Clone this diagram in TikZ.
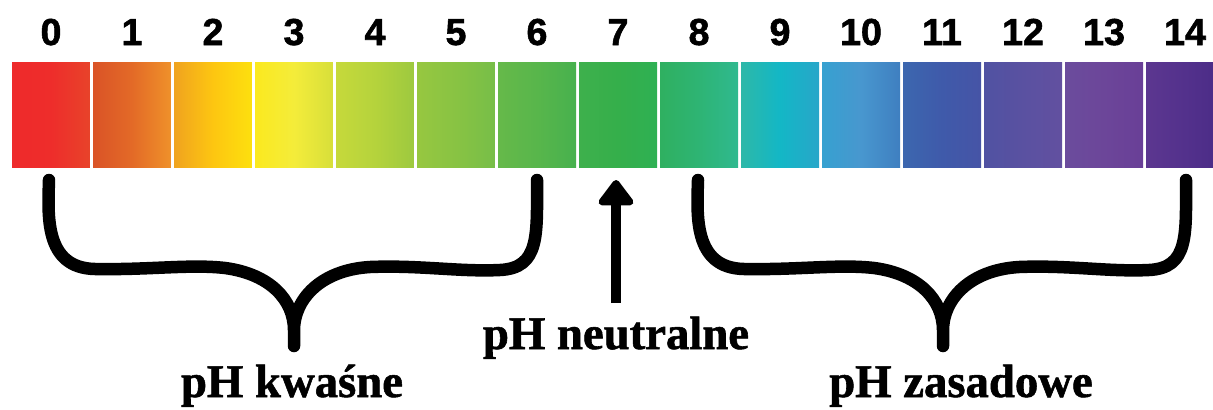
\documentclass[tikz,border=0pt]{standalone}
\usepackage{fontspec}
\setmainfont{Liberation Serif}[BoldFeatures={FakeBold=1.2}]
\newfontfamily\cyfry{Liberation Sans}[BoldFeatures={FakeBold=1.5}]
\usetikzlibrary{arrows.meta}

\begin{document}
\begin{tikzpicture}[x=0.02cm,y=-0.02cm]
\tikzstyle{komorka}=[inner sep=0,minimum width=1.56cm,minimum height=2.12cm]
\tikzstyle{cyfra}=[font=\cyfry\bfseries\fontsize{21.4}{22}\selectfont,anchor=base,inner sep=0]
\tikzstyle{opis}=[font=\bfseries\fontsize{26.6}{28}\selectfont,anchor=base,inner sep=0]
\tikzstyle{klamra}=[line width=0.25cm,line cap=round,line join=round]

\useasboundingbox (0,0) rectangle (1213,409);

% skala pH
\foreach \i/\a/\m/\b in {0/EE2A2B/EE2D2B/E8432A,1/DA5327/E36A27/EF912A,2/F0A31F/FDC611/FDE00E,
  3/FBE91F/F4EC3A/D7DF3A,4/C6D93B/B5D33C/9DC93F,5/97C740/88C343/77BE48,6/66B94A/58B64B/47B14E,
  7/3EB04C/35AF4B/2EB053,8/2FB060/2EB474/2FB98F,9/2DB8A8/13B7C6/28A6C9,10/36A1D0/4897CF/3F7FC0,
  11/3C67AF/3F5AAA/4654A6,12/5052A2/5A51A1/6250A0,13/6B4C9D/6C4699/693F97,14/5C3790/53318C/4A2B86}
{
  \definecolor{lewy}{HTML}{\a}\definecolor{srodek}{HTML}{\m}\definecolor{prawy}{HTML}{\b}
  \node[komorka,left color=lewy,right color=prawy,middle color=srodek] (k\i) at ({51+81*\i},115) {};
  \node[cyfra] (n\i) at ({51+81*\i},45) {\i};
}

\node[opis] (neutr) at (616,349) {pH neutralne};
\node[opis] (kwas) at (292,397) {pH kwaśne};
\node[opis] (zasad) at (961,397) {pH zasadowe};

% klamry
\foreach \s in {0,649}
  \draw[klamra,shift={(\s,0)}] (49,180) .. controls (48,215) and (44,268) .. (95,269)
    .. controls (150,270) and (190,264) .. (225,268)
    .. controls (270,274) and (294,300) .. (294,330) -- (294,346)
    -- (294,330) .. controls (294,300) and (320,270) .. (370,267)
    .. controls (420,265) and (460,272) .. (500,270)
    .. controls (540,268) and (537,235) .. (537,180);

\draw[line width=0.2cm,-{Triangle[length=0.56cm,width=0.8cm,round]}] (neutr.north)++(0,-13) -- (616,180);
\end{tikzpicture}
\end{document}
